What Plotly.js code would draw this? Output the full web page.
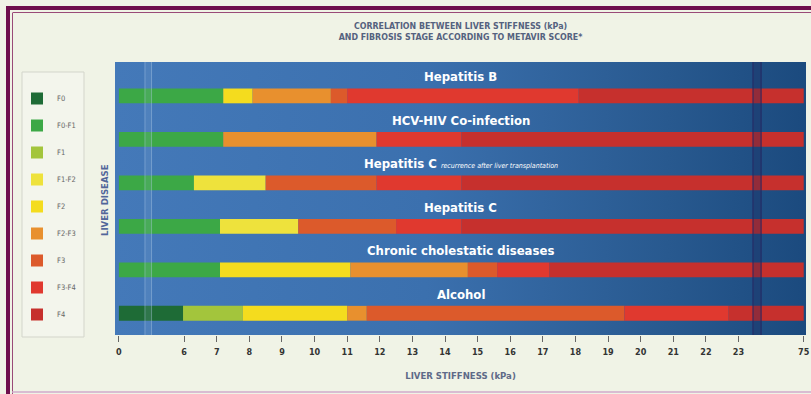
<!DOCTYPE html>
<html>
<head>
<meta charset="utf-8">
<script src="https://cdn.plot.ly/plotly-3.0.1.min.js"></script>
<style>
html,body{margin:0;padding:0;background:#f0f3e6;}
#chart{width:811px;height:394px;}
</style>
</head>
<body>
<div id="chart"></div>
<script>
// ---------------- DATA ----------------
const rows = ['Hepatitis B','HCV-HIV Co-infection','Hepatitis C recurrence','Hepatitis C','Chronic cholestatic diseases','Alcohol'];
const rowLabels = ['Hepatitis B','HCV-HIV Co-infection',
  'Hepatitis C <i><span style="font-size:7px;font-weight:normal">recurrence after liver transplantation</span></i>',
  'Hepatitis C','Chronic cholestatic diseases','Alcohol'];
const stages = ['F0','F0-F1','F1','F1-F2','F2','F2-F3','F3','F3-F4','F4'];

const hepBBounds = [0, 7.2, 8.1, 10.5, 11.0, 18.1, 75];
const hepBStages = ['F0-F1','F2','F2-F3','F3','F3-F4','F4'];
const hcvHivBounds = [0, 7.2, 11.9, 14.5, 75];
const hcvHivStages = ['F0-F1','F2-F3','F3-F4','F4'];
const hepCRecBounds = [0, 6.3, 8.5, 11.9, 14.5, 75];
const hepCRecStages = ['F0-F1','F1-F2','F3','F3-F4','F4'];
const hepCBounds = [0, 7.1, 9.5, 12.5, 14.5, 75];
const hepCStages = ['F0-F1','F1-F2','F3','F3-F4','F4'];
const cholBounds = [0, 7.1, 11.1, 14.7, 15.6, 17.2, 75];
const cholStages = ['F0-F1','F2','F2-F3','F3','F3-F4','F4'];
const alcBounds = [0, 5.9, 7.8, 11.0, 11.6, 19.5, 22.7, 75];
const alcStages = ['F0','F1','F2','F2-F3','F3','F3-F4','F4'];

const tickKpa = [0,6,7,8,9,10,11,12,13,14,15,16,17,18,19,20,21,22,23,75];

// ---------------- STYLE ----------------
const stageColors = {
  'F0':'#1e6b36','F0-F1':'#3ca846','F1':'#a3c53c','F1-F2':'#eee23c','F2':'#f4dc1e',
  'F2-F3':'#e8902e','F3':'#dc5a2b','F3-F4':'#e0392f','F4':'#c6302d'
};
const NARROW = '"DejaVu Sans Condensed","Liberation Sans Narrow","Roboto Condensed",sans-serif';

// broken axis scale: 0..6 and 23..75 compressed to 2 units each
const tickPos = tickKpa.map((v,i)=> i===0 ? 0 : (i===tickKpa.length-1 ? i+2 : i+1));
function scale(v){
  for(let i=0;i<tickKpa.length-1;i++){
    if(v<=tickKpa[i+1]){
      const t=(v-tickKpa[i])/(tickKpa[i+1]-tickKpa[i]);
      return tickPos[i]+t*(tickPos[i+1]-tickPos[i]);
    }
  }
  return tickPos[tickPos.length-1];
}

const rowData = [
  [hepBBounds,hepBStages],[hcvHivBounds,hcvHivStages],[hepCRecBounds,hepCRecStages],
  [hepCBounds,hepCStages],[cholBounds,cholStages],[alcBounds,alcStages]
];

const traces = stages.map(st=>{
  const y=[],base=[],x=[],lo=[],hi=[];
  rowData.forEach((rd,ri)=>{
    const [b,s]=rd;
    s.forEach((name,k)=>{
      if(name===st){
        y.push(rows[ri]); base.push(scale(b[k])); x.push(scale(b[k+1])-scale(b[k]));
        lo.push(b[k]); hi.push(b[k+1]);
      }
    });
  });
  return {type:'bar',orientation:'h',name:st,legendgroup:st,y:y,x:x,base:base,
    customdata:lo.map((l,i)=>[l,hi[i]]),
    hovertemplate:'%{y}<br>'+st+': %{customdata[0]}–%{customdata[1]} kPa<extra></extra>',
    marker:{color:stageColors[st],line:{width:0}},width:0.34};
});

// ---------------- LAYOUT HELPERS ----------------
const W=811,H=394,ML=115,MR=5,MT=62,MB=59;
const PW=W-ML-MR, PH=H-MT-MB;
const px=v=>(v-ML)/PW, py=v=>(H-MB-v)/PH;

const gradSvg = "<svg xmlns='http://www.w3.org/2000/svg' width='200' height='100' preserveAspectRatio='none'>"+
 "<defs><linearGradient id='g' x1='0' x2='1' y1='0' y2='0'>"+
 "<stop offset='0' stop-color='#4479b9'/><stop offset='0.45' stop-color='#3b70ae'/>"+
 "<stop offset='0.8' stop-color='#28598f'/><stop offset='1' stop-color='#1b4a7e'/></linearGradient></defs>"+
 "<rect width='200' height='100' fill='url(#g)'/></svg>";

const annotations = rows.map((r,i)=>({
  xref:'x domain',x:0.5,yref:'y',y:r,yshift:19,text:rowLabels[i],showarrow:false,
  font:{family:NARROW,size:13,color:'#ffffff',weight:'bold'},xanchor:'center',yanchor:'middle'
}));
annotations.push({xref:'paper',yref:'paper',x:px(104),y:py(200),textangle:-90,showarrow:false,
  xanchor:'center',yanchor:'middle',
  text:'LIVER DISEASE',font:{family:NARROW,size:9.5,color:'#52669a',weight:'bold'}});

const maroon='#6e0f4c';
const shapes=[
  // break markers
  {type:'rect',xref:'x',yref:'paper',x0:0.78,x1:1.02,y0:0,y1:1,fillcolor:'rgba(170,200,230,0.12)',line:{width:0},layer:'above'},
  {type:'line',xref:'x',yref:'paper',x0:0.8,x1:0.8,y0:0,y1:1,line:{color:'rgba(180,210,235,0.35)',width:1},layer:'above'},
  {type:'line',xref:'x',yref:'paper',x0:1.0,x1:1.0,y0:0,y1:1,line:{color:'rgba(180,210,235,0.35)',width:1},layer:'above'},
  {type:'rect',xref:'x',yref:'paper',x0:19.42,x1:19.72,y0:0,y1:1,fillcolor:'rgba(25,35,90,0.3)',line:{width:0},layer:'above'},
  {type:'line',xref:'x',yref:'paper',x0:19.45,x1:19.45,y0:0,y1:1,line:{color:'rgba(40,40,100,0.55)',width:1.5},layer:'above'},
  {type:'line',xref:'x',yref:'paper',x0:19.69,x1:19.69,y0:0,y1:1,line:{color:'rgba(40,40,100,0.55)',width:1.5},layer:'above'},
  // legend box
  {type:'rect',xref:'paper',yref:'paper',x0:px(22),x1:px(84),y0:py(72),y1:py(337),fillcolor:'#f3f5ec',line:{color:'#d3d5cb',width:1},layer:'below'},
  // frame
  {type:'rect',xref:'paper',yref:'paper',x0:px(6),x1:px(816),y0:py(6),y1:py(10),fillcolor:maroon,line:{width:0}},
  {type:'rect',xref:'paper',yref:'paper',x0:px(6),x1:px(10),y0:py(6),y1:py(400),fillcolor:maroon,line:{width:0}},
  {type:'line',xref:'paper',yref:'paper',x0:px(13),x1:px(816),y0:py(12.5),y1:py(12.5),line:{color:'#9a4a78',width:1}},
  {type:'line',xref:'paper',yref:'paper',x0:px(12.5),x1:px(12.5),y0:py(12.5),y1:py(400),line:{color:'#9a4a78',width:1}},
  {type:'line',xref:'paper',yref:'paper',x0:px(12),x1:px(816),y0:py(392),y1:py(392),line:{color:'#d2aacb',width:1.5}}
];

const layout = {
  width:W,height:H,
  margin:{l:ML,r:MR,t:MT,b:MB},
  paper_bgcolor:'#f0f3e6',plot_bgcolor:'#3a6eab',
  barmode:'overlay',
  title:{text:'CORRELATION BETWEEN LIVER STIFFNESS (kPa)<br>AND FIBROSIS STAGE ACCORDING TO METAVIR SCORE*',
    xref:'paper',x:0.5,xanchor:'center',yref:'container',y:1-29/H,yanchor:'middle',
    font:{family:NARROW,size:8.8,color:'#55627f',weight:'bold'}},
  xaxis:{range:[scale(0)-0.12,21.07],tickvals:tickKpa.map(scale),ticktext:tickKpa.map(String),
    showgrid:false,zeroline:false,ticks:'outside',ticklen:6,tickwidth:1,tickcolor:'#666',ticklabelstandoff:2,
    tickfont:{family:NARROW,size:9,color:'#333',weight:'bold'},fixedrange:true,
    title:{text:'LIVER STIFFNESS (kPa)',font:{family:NARROW,size:9.5,color:'#5e6a88',weight:'bold'},standoff:16}},
  yaxis:{type:'category',categoryarray:rows,range:[5.5,-0.78],showticklabels:false,showgrid:false,
    zeroline:false,ticks:'',fixedrange:true},
  legend:{x:px(17),xanchor:'left',y:py(84),yanchor:'top',bgcolor:'rgba(0,0,0,0)',borderwidth:0,
    font:{family:NARROW,size:7.5,color:'#666'},tracegroupgap:8,itemwidth:30,traceorder:'grouped'},
  images:[{source:'data:image/svg+xml;utf8,'+encodeURIComponent(gradSvg),xref:'paper',yref:'paper',
    x:0,y:1,sizex:1,sizey:1,sizing:'stretch',xanchor:'left',yanchor:'top',layer:'below'}],
  annotations:annotations,
  shapes:shapes,
  showlegend:true
};

Plotly.newPlot('chart',traces,layout,{displayModeBar:false,responsive:false});
</script>
</body>
</html>
